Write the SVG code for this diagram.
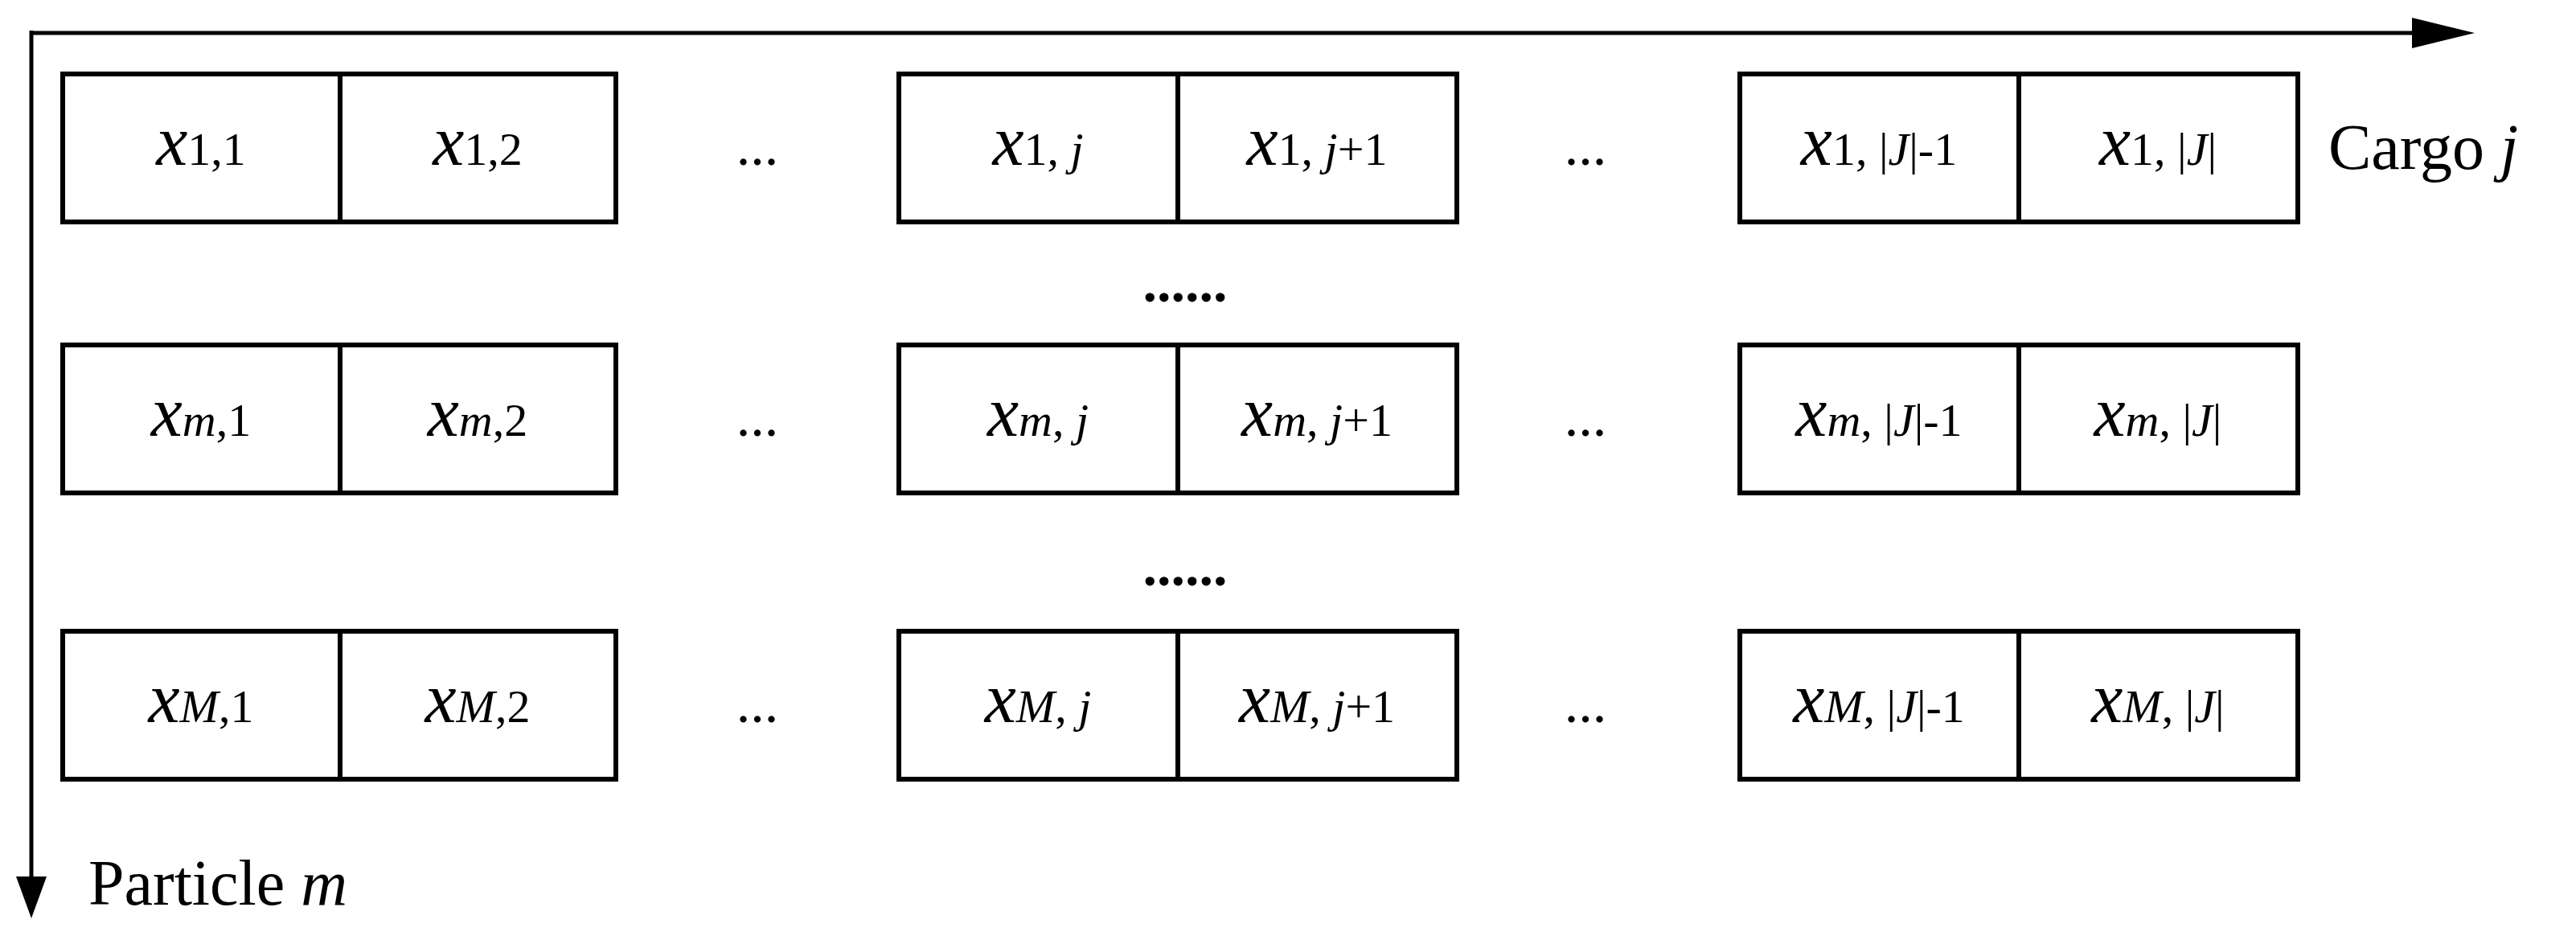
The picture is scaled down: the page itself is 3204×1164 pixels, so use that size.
<svg xmlns="http://www.w3.org/2000/svg" width="3204" height="1164" viewBox="0 0 3204 1164">
<style>
.b{fill:none;stroke:#000;stroke-width:6}
text{font-family:"Liberation Serif",serif;fill:#000}
.c{font-size:88px;text-anchor:middle}
.s{font-size:58px}
.i{font-style:italic}
.d{font-size:70px;text-anchor:middle}
.dd{font-size:70px;text-anchor:middle;font-weight:bold}
.l{font-size:80px}
</style>
<defs>
<marker id="a" viewBox="0 0 10 10" refX="9" refY="5" markerWidth="6" markerHeight="6" markerUnits="userSpaceOnUse" orient="auto">
<path d="M0,0L10,5L0,10z" fill="#000"/>
</marker>
</defs>
<g id="connectors">
<path d="M39,41H3040" stroke="#000" stroke-width="5" fill="none"/>
<path d="M3000,22L3078,41L3000,60z" fill="#000"/>
<path d="M39,38V1090" stroke="#000" stroke-width="5" fill="none"/>
<path d="M20,1090L39,1142L58,1090z" fill="#000"/>
</g>
<g id="row1">
<rect class="b" x="78" y="92" width="345" height="184"/><rect class="b" x="423" y="92" width="343" height="184"/>
<rect class="b" x="1118" y="92" width="347" height="184"/><rect class="b" x="1465" y="92" width="347" height="184"/>
<rect class="b" x="2164" y="92" width="347" height="184"/><rect class="b" x="2511" y="92" width="347" height="184"/>
<text class="c" x="250" y="205"><tspan class="i">x</tspan><tspan class="s">1,1</tspan></text>
<text class="c" x="594" y="205"><tspan class="i">x</tspan><tspan class="s">1,2</tspan></text>
<text class="c" x="1291" y="205"><tspan class="i">x</tspan><tspan class="s">1, </tspan><tspan class="s i">j</tspan></text>
<text class="c" x="1638" y="205"><tspan class="i">x</tspan><tspan class="s">1, </tspan><tspan class="s i">j</tspan><tspan class="s">+1</tspan></text>
<text class="c" x="2337" y="205"><tspan class="i">x</tspan><tspan class="s">1, |</tspan><tspan class="s i">J</tspan><tspan class="s">|-1</tspan></text>
<text class="c" x="2684" y="205"><tspan class="i">x</tspan><tspan class="s">1, |</tspan><tspan class="s i">J</tspan><tspan class="s">|</tspan></text>
<text class="d" x="942" y="205">...</text><text class="d" x="1972" y="205">...</text>
</g>
<g id="row2">
<rect class="b" x="78" y="429" width="345" height="184"/><rect class="b" x="423" y="429" width="343" height="184"/>
<rect class="b" x="1118" y="429" width="347" height="184"/><rect class="b" x="1465" y="429" width="347" height="184"/>
<rect class="b" x="2164" y="429" width="347" height="184"/><rect class="b" x="2511" y="429" width="347" height="184"/>
<text class="c" x="250" y="542"><tspan class="i">x</tspan><tspan class="s i">m</tspan><tspan class="s">,1</tspan></text>
<text class="c" x="594" y="542"><tspan class="i">x</tspan><tspan class="s i">m</tspan><tspan class="s">,2</tspan></text>
<text class="c" x="1291" y="542"><tspan class="i">x</tspan><tspan class="s i">m</tspan><tspan class="s">, </tspan><tspan class="s i">j</tspan></text>
<text class="c" x="1638" y="542"><tspan class="i">x</tspan><tspan class="s i">m</tspan><tspan class="s">, </tspan><tspan class="s i">j</tspan><tspan class="s">+1</tspan></text>
<text class="c" x="2337" y="542"><tspan class="i">x</tspan><tspan class="s i">m</tspan><tspan class="s">, |</tspan><tspan class="s i">J</tspan><tspan class="s">|-1</tspan></text>
<text class="c" x="2684" y="542"><tspan class="i">x</tspan><tspan class="s i">m</tspan><tspan class="s">, |</tspan><tspan class="s i">J</tspan><tspan class="s">|</tspan></text>
<text class="d" x="942" y="542">...</text><text class="d" x="1972" y="542">...</text>
</g>
<g id="row3">
<rect class="b" x="78" y="785" width="345" height="184"/><rect class="b" x="423" y="785" width="343" height="184"/>
<rect class="b" x="1118" y="785" width="347" height="184"/><rect class="b" x="1465" y="785" width="347" height="184"/>
<rect class="b" x="2164" y="785" width="347" height="184"/><rect class="b" x="2511" y="785" width="347" height="184"/>
<text class="c" x="250" y="898"><tspan class="i">x</tspan><tspan class="s i">M</tspan><tspan class="s">,1</tspan></text>
<text class="c" x="594" y="898"><tspan class="i">x</tspan><tspan class="s i">M</tspan><tspan class="s">,2</tspan></text>
<text class="c" x="1291" y="898"><tspan class="i">x</tspan><tspan class="s i">M</tspan><tspan class="s">, </tspan><tspan class="s i">j</tspan></text>
<text class="c" x="1638" y="898"><tspan class="i">x</tspan><tspan class="s i">M</tspan><tspan class="s">, </tspan><tspan class="s i">j</tspan><tspan class="s">+1</tspan></text>
<text class="c" x="2337" y="898"><tspan class="i">x</tspan><tspan class="s i">M</tspan><tspan class="s">, |</tspan><tspan class="s i">J</tspan><tspan class="s">|-1</tspan></text>
<text class="c" x="2684" y="898"><tspan class="i">x</tspan><tspan class="s i">M</tspan><tspan class="s">, |</tspan><tspan class="s i">J</tspan><tspan class="s">|</tspan></text>
<text class="d" x="942" y="898">...</text><text class="d" x="1972" y="898">...</text>
</g>
<g id="vdots">
<text class="dd" x="1474" y="375">......</text>
<text class="dd" x="1474" y="728">......</text>
</g>
<g id="labels">
<text class="l" x="2896" y="210">Cargo <tspan class="i">j</tspan></text>
<text class="l" x="110" y="1125">Particle <tspan class="i">m</tspan></text>
</g>
</svg>
